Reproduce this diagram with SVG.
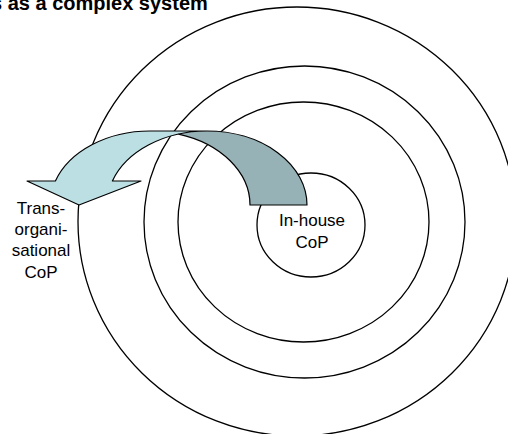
<svg xmlns="http://www.w3.org/2000/svg" width="508" height="434" viewBox="0 0 508 434">
  <style>
    .ring { fill: none; stroke: #000; stroke-width: 1.3; }
    .lbl { font-family: "Liberation Sans", Arial, sans-serif; font-size: 17px; fill: #000; text-anchor: middle; }
    .title { font-family: "Liberation Sans", Arial, sans-serif; font-size: 20px; font-weight: bold; fill: #000; }
    .front { fill: #BCDFE3; stroke: none; }
    .back { fill: #96B2B6; stroke: none; }
    .edge { fill: none; stroke: #000; stroke-width: 1.2; stroke-linejoin: round; }
  </style>
  <rect width="508" height="434" fill="#fff"/>

  <text class="title" x="-9" y="10">s as a complex system</text>

  <!-- concentric rings, outermost first -->
  <g id="ring-outer"><ellipse class="ring" cx="297" cy="221.5" rx="219" ry="214.5"/></g>
  <g id="ring-2"><ellipse class="ring" cx="304.5" cy="222" rx="160.5" ry="156"/></g>
  <g id="ring-3"><ellipse class="ring" cx="303.5" cy="222" rx="125.5" ry="120"/></g>
  <g id="inhouse">
    <ellipse class="ring" cx="311" cy="225" rx="54" ry="52"/>
    <text class="lbl" x="312" y="226">In-house</text>
    <text class="lbl" x="312" y="247.5">CoP</text>
  </g>

  <g id="transorg">
    <text class="lbl" x="41" y="213.5">Trans-</text>
    <text class="lbl" x="41" y="234.5">organi-</text>
    <text class="lbl" x="41" y="256">sational</text>
    <text class="lbl" x="41" y="277.5">CoP</text>
  </g>

  <!-- curved arrow from the in-house ring out to the trans-organisational ring -->
  <g id="connectors">
    <!-- rear band (tail side) -->
    <path class="back" d="M178.5,134.1 A100,74 0 0 1 307,205 L250,205 A100,74 0 0 0 178.5,134.1 Z"/>
    <!-- front band with head -->
    <path class="front" d="M55.4,181 L27,181 L79,205 L141,181 L112.4,181 A100,74 0 0 1 207,131 L150,131 A100,74 0 0 0 55.4,181 Z"/>
    <!-- outline -->
    <path class="edge" d="M178.5,134.1 A100,74 0 0 1 250,205 L307,205 A100,74 0 0 0 207,131 L150,131 A100,74 0 0 0 55.4,181 L27,181 L79,205 L141,181 L112.4,181 A100,74 0 0 1 207,131"/>
  </g>
</svg>
